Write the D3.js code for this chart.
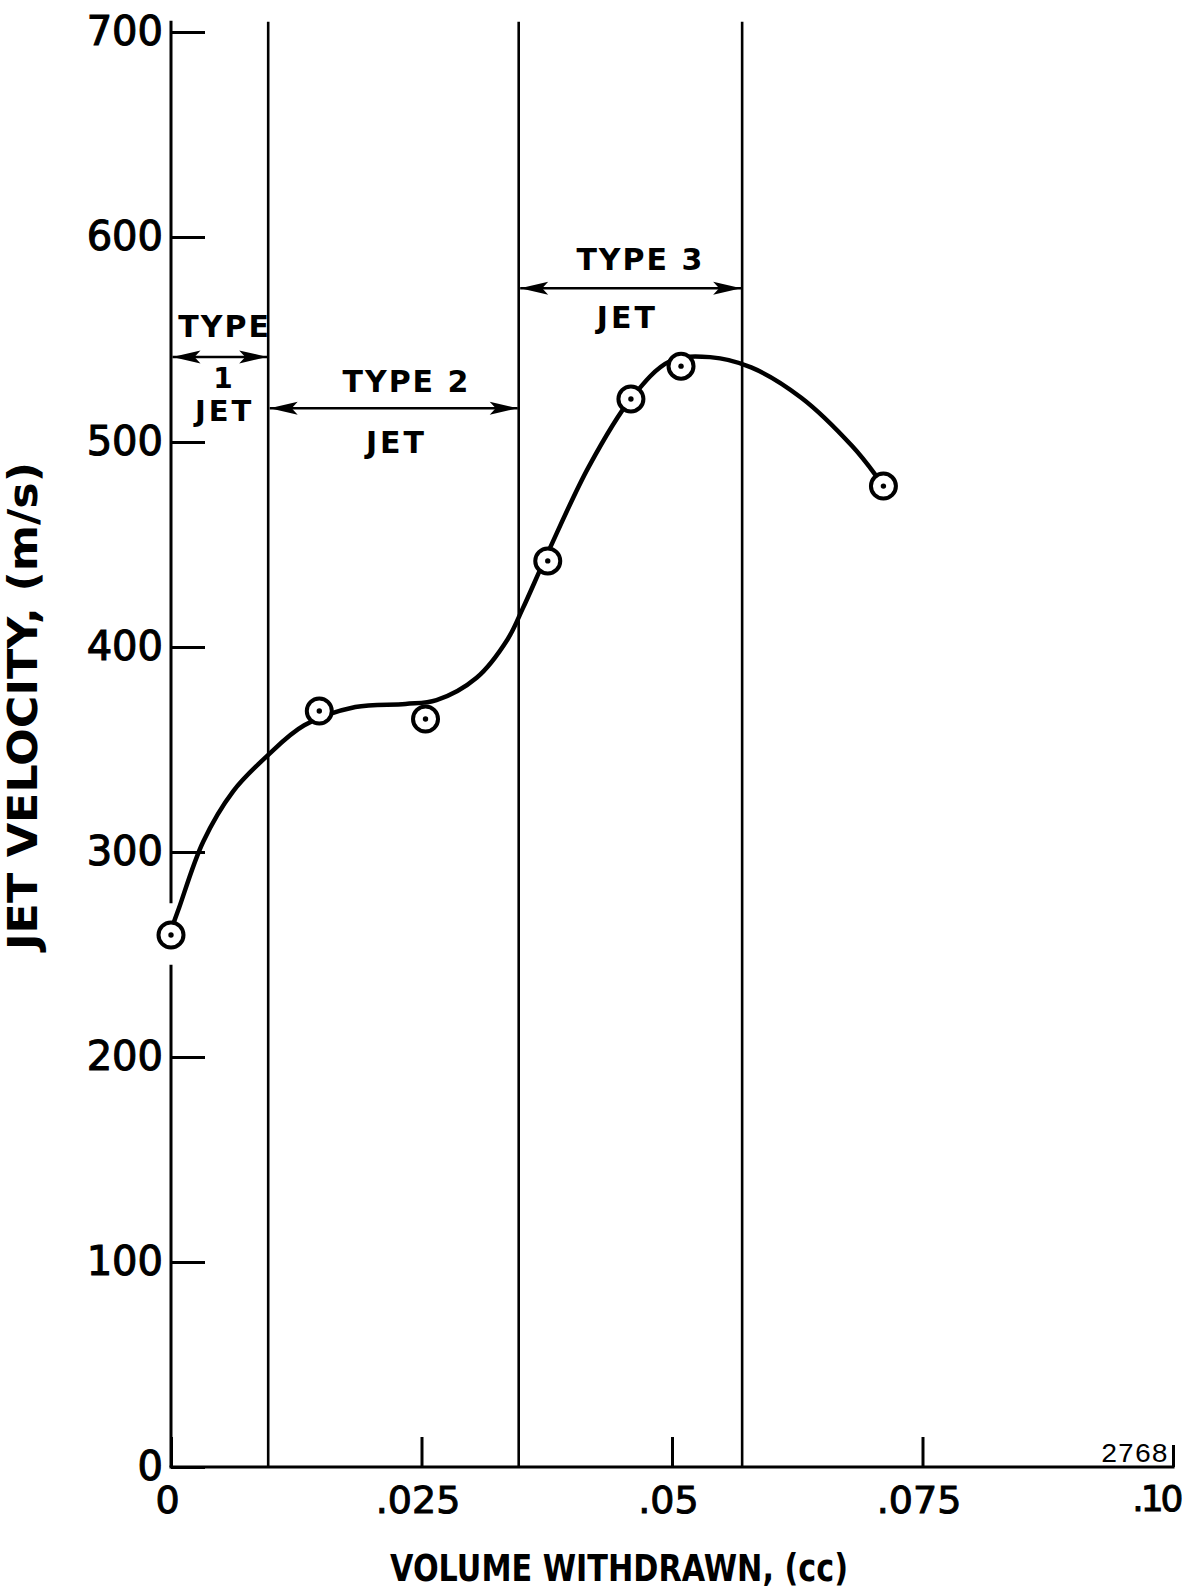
<!DOCTYPE html>
<html>
<head>
<meta charset="utf-8">
<script src="https://cdn.jsdelivr.net/npm/d3@7"></script>
<style>
  body { margin: 0; background: #fff; }
  svg { display: block; }
  text { fill: #000; font-family: "DejaVu Sans", sans-serif; }
</style>
</head>
<body>
<svg id="chart"></svg>
<script>
// measured points (volume withdrawn cc, jet velocity m/s)
const pointX = [0, 0.0148, 0.0254, 0.0376, 0.0459, 0.0509, 0.0711];
const pointY = [259.5, 368.8, 364.9, 442, 521, 537, 478.5];

// hand-faired curve through the points
const curveX = [0.0003, 0.0008, 0.0032, 0.0062, 0.0096, 0.0133, 0.0184, 0.0234, 0.0265, 0.0305, 0.0336,
  0.0351, 0.0376, 0.0417, 0.0459, 0.0498, 0.0538, 0.0579, 0.0629, 0.0680, 0.0703];
const curveY = [266, 272.7, 304.9, 329.6, 346.9, 361.8, 370.7, 372.2, 374.1, 385, 403.8,
  418.7, 445.9, 488, 521.1, 539.4, 541.4, 536.4, 521.6, 497.9, 484];

// jet type zones
const zoneStart = [0, 0.0097, 0.0347];
const zoneEnd = [0.0097, 0.0347, 0.057];
const zoneArrowAt = [541.5, 516.5, 575];
const zoneTop = ["TYPE", "TYPE 2", "TYPE 3"];
const zoneBottom = [["1", "JET"], ["JET"], ["JET"]];

const xTicks = [0, 0.025, 0.05, 0.075, 0.1];
const xTickLabels = ["0", ".025", ".05", ".075", ".10"];
const yTicks = [0, 100, 200, 300, 400, 500, 600, 700];

const width = 1192, height = 1591;

const svg = d3.select("#chart")
  .attr("width", width)
  .attr("height", height);

const x = d3.scaleLinear().domain([0, 0.1]).range([171, 1173]);
const y = d3.scaleLinear().domain([0, 700]).range([1467, 32]);

// x axis (ticks point up into the plot)
const xAxis = svg.append("g")
  .attr("transform", `translate(0,${y(0)})`)
  .call(d3.axisBottom(x).tickValues(xTicks).tickSize(-30).tickPadding(10)
    .tickFormat((d, i) => xTickLabels[i]));
xAxis.select(".domain").remove();
xAxis.selectAll(".tick line").attr("stroke", "#000").attr("stroke-width", 3)
  .filter(d => d === 0.1).attr("y2", -22);
xAxis.selectAll(".tick text")
  .attr("font-size", 38).attr("font-family", "DejaVu Sans")
  .attr("dy", "0.95em").attr("dx", -4)
  .attr("stroke", "#000").attr("stroke-width", 1);
// last label sits right at the page edge
xAxis.selectAll(".tick text").filter(d => d === 0.1)
  .attr("text-anchor", "end").attr("dx", 7).attr("font-size", 36)
  .attr("letter-spacing", -3);

svg.append("line")
  .attr("x1", x(0) - 1.5).attr("x2", x(0.1) + 1.5)
  .attr("y1", y(0)).attr("y2", y(0))
  .attr("stroke", "#000").attr("stroke-width", 3);

// y axis (ticks point right into the plot)
const yAxis = svg.append("g")
  .attr("transform", `translate(${x(0)},0)`)
  .call(d3.axisLeft(y).tickValues(yTicks).tickSize(-34).tickPadding(8).tickFormat(d3.format("d")));
yAxis.select(".domain").remove();
yAxis.selectAll(".tick line").attr("stroke", "#000").attr("stroke-width", 3);
yAxis.selectAll(".tick text")
  .attr("font-size", 40).attr("font-family", "DejaVu Sans")
  .attr("stroke", "#000").attr("stroke-width", 1.1);

// y axis line is broken around the first point
[[0, 245], [275, 705.5]].forEach(([a, b]) => {
  svg.append("line")
    .attr("x1", x(0)).attr("x2", x(0))
    .attr("y1", y(a)).attr("y2", y(b))
    .attr("stroke", "#000").attr("stroke-width", 3);
});

// zone boundaries
zoneEnd.forEach(v => {
  svg.append("line")
    .attr("x1", x(v)).attr("x2", x(v))
    .attr("y1", y(0)).attr("y2", y(705))
    .attr("stroke", "#000").attr("stroke-width", 2.6);
});

// double arrows + zone labels
function arrowHead(px, py, dir) {
  const L = 28, H = 6.5;
  return `M${px},${py}L${px - dir * L},${py - H}L${px - dir * L + dir * 6},${py}L${px - dir * L},${py + H}Z`;
}
const topDy = [-20, -16, -18];
const botDy = [[31, 64], [45], [40]];
const labelDx = [[5, 5, 5], [13, 3], [10, -3]];
const botSize = [[28, 29], [30], [30]];
zoneStart.forEach((s, i) => {
  const x1 = x(s) + 1.5, x2 = x(zoneEnd[i]) - 1, ay = y(zoneArrowAt[i]);
  svg.append("line").attr("x1", x1).attr("x2", x2).attr("y1", ay).attr("y2", ay)
    .attr("stroke", "#000").attr("stroke-width", 2.6);
  svg.append("path").attr("d", arrowHead(x1, ay, -1)).attr("fill", "#000");
  svg.append("path").attr("d", arrowHead(x2, ay, 1)).attr("fill", "#000");
  const cx = (x(s) + x(zoneEnd[i])) / 2;
  svg.append("text").attr("x", cx + labelDx[i][0]).attr("y", ay + topDy[i])
    .attr("text-anchor", "middle").attr("font-size", 30).attr("font-weight", "bold")
    .attr("letter-spacing", 2).text(zoneTop[i]);
  zoneBottom[i].forEach((t, j) => {
    svg.append("text").attr("x", cx + labelDx[i][j + 1]).attr("y", ay + botDy[i][j])
      .attr("text-anchor", "middle").attr("font-size", botSize[i][j]).attr("font-weight", "bold")
      .attr("letter-spacing", 3).text(t);
  });
});

// curve
const line = d3.line()
  .x((d, i) => x(curveX[i]))
  .y((d, i) => y(curveY[i]))
  .curve(d3.curveCatmullRom.alpha(0.5));
svg.append("path")
  .attr("d", line(curveX))
  .attr("fill", "none")
  .attr("stroke", "#000")
  .attr("stroke-width", 4.5)
  .attr("stroke-linecap", "round");

// data markers: open circle with centre dot
const pts = svg.append("g");
pts.selectAll("circle.ring").data(pointX).join("circle")
  .attr("class", "ring")
  .attr("cx", (d, i) => x(pointX[i])).attr("cy", (d, i) => y(pointY[i]))
  .attr("r", 12.5).attr("fill", "#fff").attr("stroke", "#000").attr("stroke-width", 4);
pts.selectAll("circle.dot").data(pointX).join("circle")
  .attr("class", "dot")
  .attr("cx", (d, i) => x(pointX[i])).attr("cy", (d, i) => y(pointY[i]))
  .attr("r", 2.7).attr("fill", "#000");

// axis titles
svg.append("text")
  .attr("x", 619).attr("y", 1581)
  .attr("text-anchor", "middle").attr("font-size", 37).attr("font-weight", "bold")
  .attr("textLength", 458).attr("lengthAdjust", "spacingAndGlyphs")
  .text("VOLUME WITHDRAWN, (cc)");

svg.append("text")
  .attr("transform", "translate(37,706) rotate(-90)")
  .attr("text-anchor", "middle").attr("font-size", 40).attr("font-weight", "bold")
  .attr("textLength", 488).attr("lengthAdjust", "spacingAndGlyphs")
  .text("JET VELOCITY,  (m/s)");

// figure number
svg.append("text")
  .attr("x", 1168).attr("y", 1462)
  .attr("text-anchor", "end").attr("font-size", 28)
  .style("font-family", "Liberation Mono, monospace")
  .text("2768");
</script>
</body>
</html>
